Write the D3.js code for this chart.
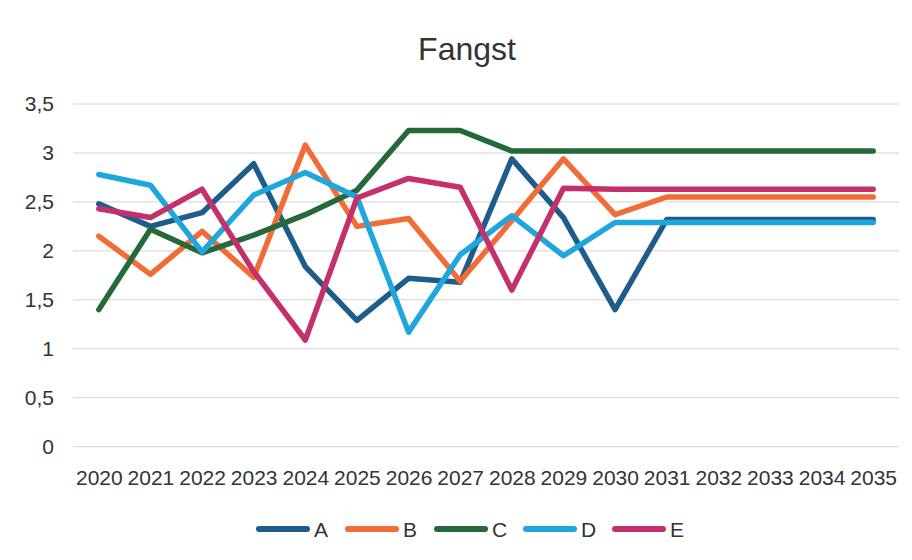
<!DOCTYPE html>
<html>
<head>
<meta charset="utf-8">
<script src="https://cdn.jsdelivr.net/npm/d3@7"></script>
<style>
  body { margin: 0; background: #fff; }
  svg { display: block; font-family: "Liberation Sans", Arial, sans-serif; }
</style>
</head>
<body>
<svg id="chart"></svg>
<script>
// Chart data
var years = ["2020", "2021", "2022", "2023", "2024", "2025", "2026", "2027",
             "2028", "2029", "2030", "2031", "2032", "2033", "2034", "2035"];

var seriesA = [2.48, 2.25, 2.39, 2.89, 1.84, 1.29, 1.72, 1.68, 2.94, 2.34, 1.40, 2.32, 2.32, 2.32, 2.32, 2.32];
var seriesB = [2.15, 1.76, 2.20, 1.73, 3.08, 2.25, 2.33, 1.69, 2.31, 2.94, 2.37, 2.55, 2.55, 2.55, 2.55, 2.55];
var seriesC = [1.40, 2.22, 1.98, 2.16, 2.37, 2.62, 3.23, 3.23, 3.02, 3.02, 3.02, 3.02, 3.02, 3.02, 3.02, 3.02];
var seriesD = [2.78, 2.67, 1.99, 2.57, 2.80, 2.55, 1.17, 1.96, 2.36, 1.95, 2.29, 2.29, 2.29, 2.29, 2.29, 2.29];
var seriesE = [2.43, 2.34, 2.63, 1.79, 1.09, 2.54, 2.74, 2.65, 1.60, 2.64, 2.63, 2.63, 2.63, 2.63, 2.63, 2.63];

var seriesNames = ["A", "B", "C", "D", "E"];
var yTicks = [0, 0.5, 1, 1.5, 2, 2.5, 3, 3.5];

var colors = ["#1d5c8b", "#f26c38", "#25683a", "#1fa6dc", "#c3306b"];

var width = 912,
    height = 560;

var series = [seriesA, seriesB, seriesC, seriesD, seriesE].map(function (vals, i) {
  return { name: seriesNames[i], color: colors[i], values: vals };
});

var svg = d3.select("#chart")
  .attr("width", width)
  .attr("height", height);

// Scales
var x = d3.scalePoint()
  .domain(years)
  .range([73, 899])
  .padding(0.5);

var y = d3.scaleLinear()
  .domain([0, 3.5])
  .range([446.7, 104]);

// Title
svg.append("text")
  .attr("x", 467)
  .attr("y", 60)
  .attr("text-anchor", "middle")
  .attr("font-size", 32)
  .attr("fill", "#333")
  .text("Fangst");

// Gridlines
svg.append("g")
  .selectAll("line")
  .data(yTicks)
  .enter().append("line")
  .attr("x1", 73)
  .attr("x2", 899)
  .attr("y1", function (d) { return y(d); })
  .attr("y2", function (d) { return y(d); })
  .attr("stroke", "#d4d4d4")
  .attr("stroke-width", 1);

// Y axis labels
var yAxis = d3.axisLeft(y)
  .tickValues(yTicks)
  .tickSize(0)
  .tickPadding(0)
  .tickFormat(function (d) { return String(d).replace(".", ","); });

svg.append("g")
  .attr("transform", "translate(54,0)")
  .call(yAxis)
  .call(function (g) { g.select(".domain").remove(); })
  .selectAll("text")
  .attr("font-size", 21)
  .attr("font-family", "Liberation Sans, Arial, sans-serif")
  .attr("fill", "#333");

// X axis labels
var xAxis = d3.axisBottom(x)
  .tickSize(0)
  .tickPadding(0);

svg.append("g")
  .attr("transform", "translate(0,470)")
  .call(xAxis)
  .call(function (g) { g.select(".domain").remove(); })
  .selectAll("text")
  .attr("font-size", 21)
  .attr("font-family", "Liberation Sans, Arial, sans-serif")
  .attr("fill", "#333");

// Lines
var line = d3.line()
  .x(function (d, i) { return x(years[i]); })
  .y(function (d) { return y(d); });

svg.append("g")
  .selectAll("path")
  .data(series)
  .enter().append("path")
  .attr("d", function (d) { return line(d.values); })
  .attr("fill", "none")
  .attr("stroke", function (d) { return d.color; })
  .attr("stroke-width", 5.5)
  .attr("stroke-linejoin", "round")
  .attr("stroke-linecap", "round");

// Legend
var legend = svg.append("g")
  .selectAll("g")
  .data(series)
  .enter().append("g")
  .attr("transform", function (d, i) { return "translate(" + (259 + i * 89) + ",529)"; });

legend.append("line")
  .attr("x1", 0)
  .attr("x2", 48)
  .attr("stroke", function (d) { return d.color; })
  .attr("stroke-width", 6)
  .attr("stroke-linecap", "round");

legend.append("text")
  .attr("x", 55)
  .attr("y", 7.5)
  .attr("font-size", 21)
  .attr("fill", "#333")
  .text(function (d) { return d.name; });
</script>
</body>
</html>
